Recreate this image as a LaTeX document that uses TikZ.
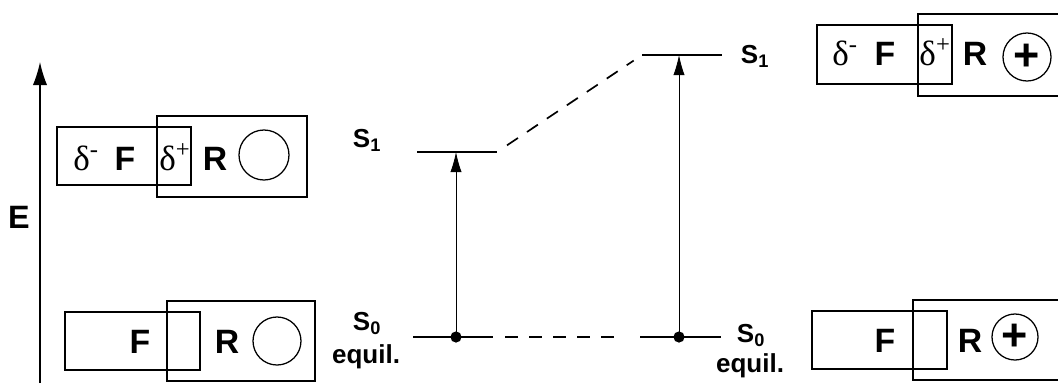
\documentclass[tikz,border=0pt]{standalone}
\usepackage{fontspec}
\setmainfont{Liberation Sans}
\newfontfamily\greek{Liberation Serif}
\usetikzlibrary{positioning, shapes, arrows.meta, calc}

\begin{document}
\begin{tikzpicture}[x=0.025cm, y=-0.025cm,
          frag/.style={draw, line width=1.1pt, minimum width=#1, minimum height=1.45cm, inner sep=0pt},
          big/.style={draw, line width=1.1pt, minimum width=3.75cm, minimum height=#1, inner sep=0pt},
          ring/.style={draw, circle, line width=0.9pt, minimum size=#1, inner sep=0pt, font=\bfseries\fontsize{32}{32}\selectfont},
          lett/.style={font=\bfseries\fontsize{24}{24}\selectfont, inner sep=0pt, anchor=base},
          dlt/.style={font=\greek\fontsize{25}{25}\selectfont, inner sep=0pt, anchor=base},
          lbl/.style={font=\bfseries\fontsize{18.5}{18.5}\selectfont, inner sep=0pt, anchor=base},
          lvl/.style={line width=1.4pt},
          arr/.style={-{Latex[length=0.5cm, width=0.28cm]}, line width=0.6pt},
          axarr/.style={-{Latex[length=0.58cm, width=0.36cm]}, line width=0.9pt},
          dsh/.style={line width=1.2pt, dash pattern=on 0.33cm off 0.27cm},
          dot/.style={circle, fill, minimum size=0.28cm, inner sep=0pt}
        ]
        \useasboundingbox (0,0) rectangle (1058,383);
        % energy axis
        \coordinate (ebot) at (40,383);
        \coordinate (etop) at (40,62);
        \draw[axarr] (ebot) -- (etop);
        \node[lbl, font=\bfseries\fontsize{23}{23}\selectfont] (elbl) at (19,228) {E};
        % excited state, neutral radical
        \node[frag=3.35cm] (fexl) at (124,156) {};
        \node[big=2.025cm] (rexl) at (232,156.5) {};
        \node[ring=1.25cm] (cexl) at (264,155) {};
        \node[dlt] (dmexl) at (86,170) {δ\textsuperscript{-}};
        \node[lett] (ftexl) at (125,170) {F};
        \node[dlt] (dpexl) at (175,170) {δ\textsuperscript{+}};
        \node[lett] (rtexl) at (215,170) {R};
        % ground state, neutral radical
        \node[frag=3.375cm] (fgrl) at (132.5,341) {};
        \node[big=2.0cm, minimum width=3.7cm] (rgrl) at (241,341) {};
        \node[ring=1.2cm] (cgrl) at (277,341) {};
        \node[lett] (ftgrl) at (140,353) {F};
        \node[lett] (rtgrl) at (227,353) {R};
        % excited state, cation
        \node[frag=3.375cm, minimum height=1.475cm] (fexr) at (884.5,54.5) {};
        \node[big=2.05cm] (rexr) at (993,55) {};
        \node[ring=1.2cm] (cexr) at (1027,57) {+};
        \node[dlt] (dmexr) at (845,65) {δ\textsuperscript{-}};
        \node[lett] (ftexr) at (885,65) {F};
        \node[dlt] (dpexr) at (935,65) {δ\textsuperscript{+}};
        \node[lett] (rtexr) at (975,65) {R};
        % ground state, cation
        \node[frag=3.375cm] (fgrr) at (879.5,340) {};
        \node[big=2.0cm] (rgrr) at (988,340) {};
        \node[ring=1.15cm] (cgrr) at (1015,337) {+};
        \node[lett] (ftgrr) at (885,352) {F};
        \node[lett] (rtgrr) at (970,352) {R};
        % levels
        \coordinate (s1l-w) at (417,152);
        \coordinate (s1l-e) at (497,152);
        \coordinate (s0l-w) at (413,337);
        \coordinate (s0l-e) at (493,337);
        \coordinate (s1r-w) at (642,55);
        \coordinate (s1r-e) at (722,55);
        \coordinate (s0r-w) at (640,337);
        \coordinate (s0r-e) at (721,337);
        \draw[lvl] (s1l-w) -- (s1l-e);
        \draw[lvl] (s0l-w) -- (s0l-e);
        \draw[lvl] (s1r-w) -- (s1r-e);
        \draw[lvl] (s0r-w) -- (s0r-e);
        \node[dot] (gl) at (456,337) {};
        \node[dot] (gr) at (679,337) {};
        \coordinate (el) at (456,152);
        \coordinate (er) at (679,55);
        \draw[arr] (gl.center) -- (el);
        \draw[arr] (gr.center) -- (er);
        \draw[dsh, shorten <=0.3cm, shorten >=0.6cm] (s0l-e) -- (s0r-w);
        \draw[dsh, shorten <=0.3cm, shorten >=0.25cm] (s1l-e) -- (s1r-w);
        % labels
        \node[lbl] (s1ll) at (367,147) {S\textsubscript{1}};
        \node[lbl] (s0ll) at (367,330) {S\textsubscript{0}};
        \node[lbl] (eqll) at (366,363) {equil.};
        \node[lbl] (s1rl) at (755,63) {S\textsubscript{1}};
        \node[lbl] (s0rl) at (751,342) {S\textsubscript{0}};
        \node[lbl] (eqrl) at (750,372) {equil.};
        \end{tikzpicture}
\end{document}
